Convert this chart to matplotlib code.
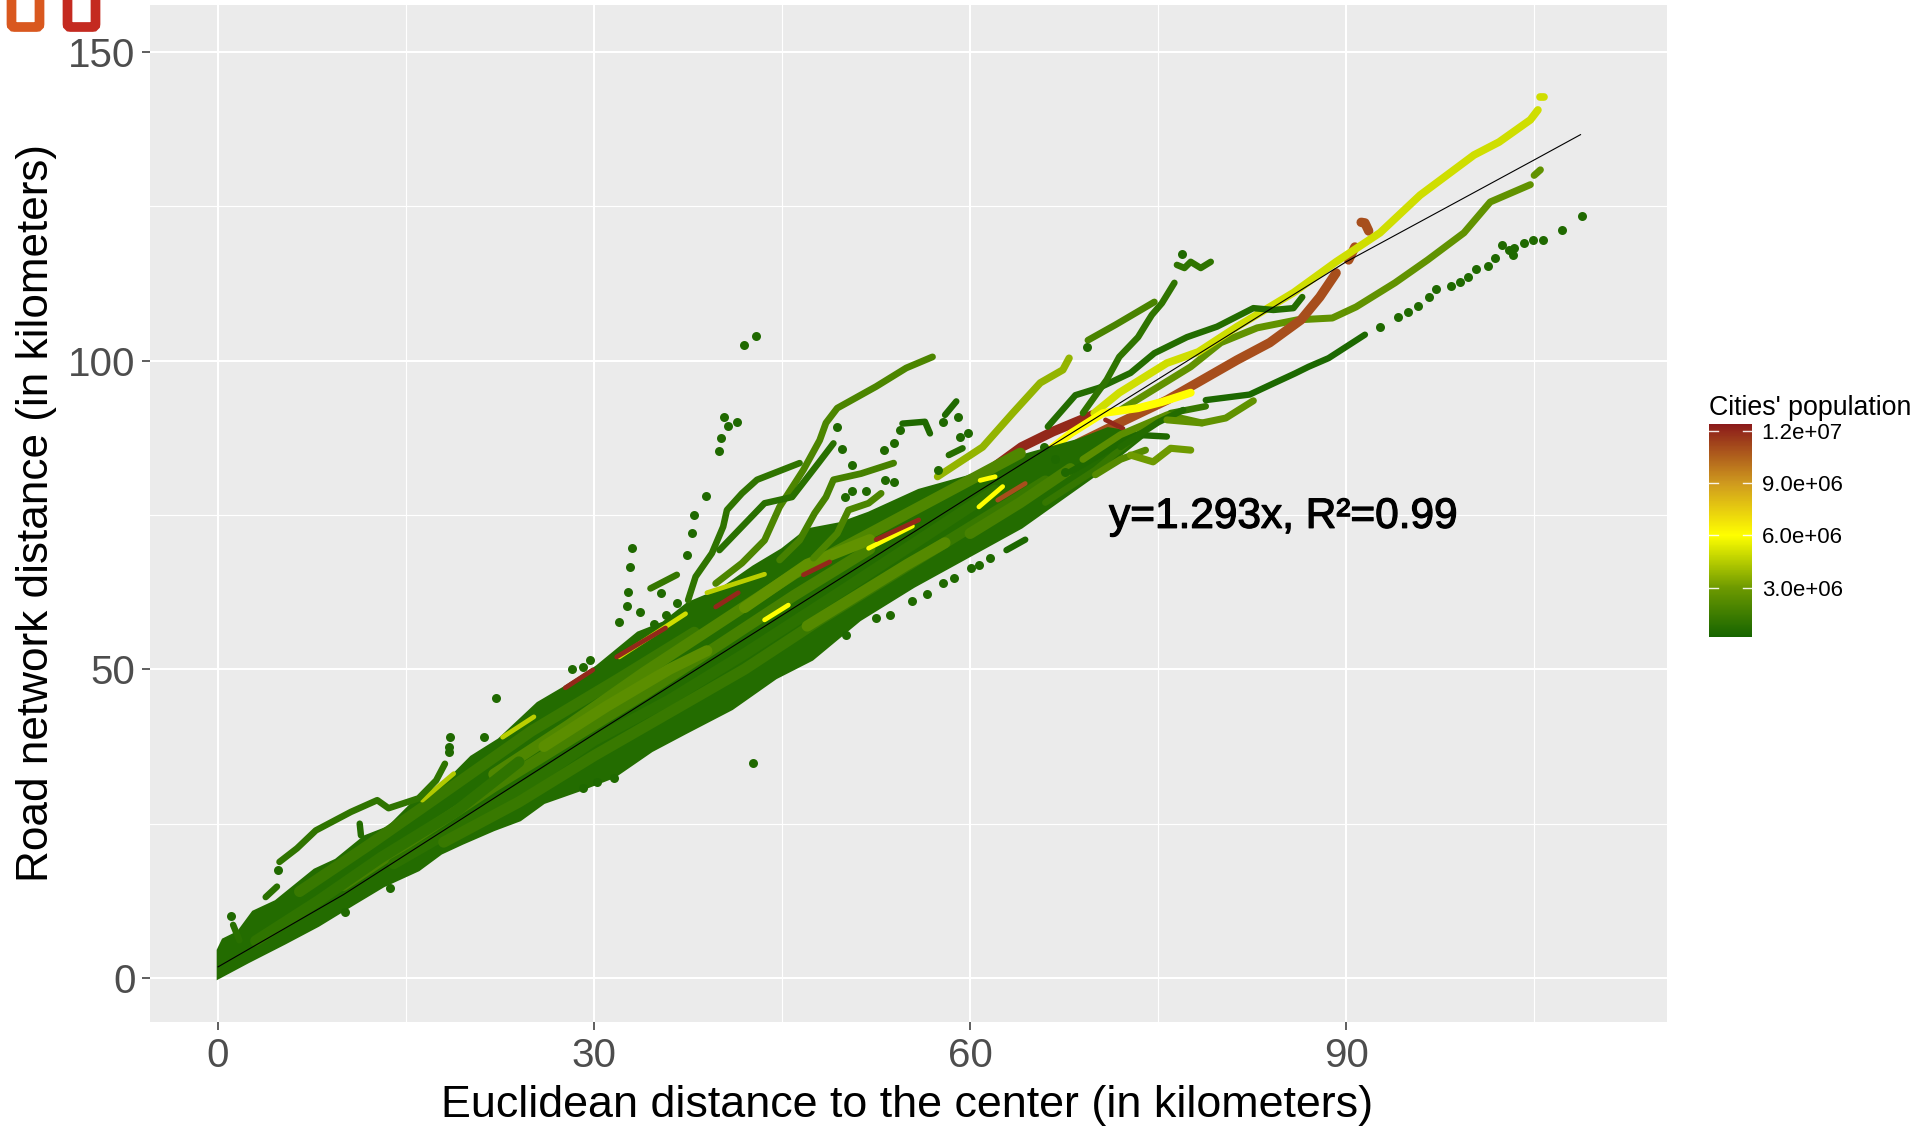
import matplotlib
matplotlib.use("Agg")
import matplotlib.pyplot as plt
import matplotlib.patheffects as pe
from matplotlib.colors import LinearSegmentedColormap, Normalize
from matplotlib.colorbar import ColorbarBase
from matplotlib.patches import FancyBboxPatch

plt.rcParams['font.family'] = ['Liberation Sans', 'DejaVu Sans']

W, H = 1929, 1126

# main band around the fit
band_upper_x = [0, 0.4, 1.6, 2.8, 4.6, 7.7, 9.4, 11.7, 13.6, 16, 18, 20.2, 22.4, 25.5, 27.6, 30.2, 33.5, 35.5, 37.5, 40, 42.7, 45, 47, 49.6, 51.9, 55.9, 59.8, 64, 68.6, 71, 74]
band_upper_y = [4.5, 6.2, 7.4, 10.7, 12.4, 17.5, 19.1, 22.9, 24.4, 29.3, 31.3, 35.8, 38.6, 44.5, 47, 50.4, 55.9, 57.5, 60.7, 62.8, 66.6, 69.4, 72.6, 73.6, 75.3, 79, 81.2, 84.5, 87.1, 89, 88]
band_lower_x = [0, 2.4, 5.3, 8, 10.9, 13.2, 16, 17.8, 19.5, 22, 24.1, 26, 28.8, 31.6, 34.6, 37.3, 41, 44.5, 47.4, 51.2, 55.5, 59.8, 64.1, 70.2]
band_lower_y = [0, 2.6, 5.6, 8.5, 12.1, 14.9, 17.5, 20.2, 21.8, 24, 25.6, 28.4, 30.4, 32.6, 36.8, 39.7, 43.6, 48.6, 51.6, 58, 63.4, 68.2, 73, 81.8]

# lighter stripes inside the band
stripe_a_x = [6.5, 12, 18, 25, 32, 38]
stripe_a_y = [14, 21.5, 30, 40, 48.5, 56]
stripe_b_x = [10, 16, 22, 28, 34, 40, 46, 52]
stripe_b_y = [15, 23, 31, 38.5, 46, 54, 62, 69.5]
stripe_c_x = [14, 20, 26, 30, 36, 42, 50, 56, 62]
stripe_c_y = [18.5, 25.5, 33, 38.5, 45, 52.5, 63, 71, 79]
stripe_d_x = [18, 24, 30, 36, 42, 48, 54, 60, 66]
stripe_d_y = [22, 28.5, 36, 43, 50, 58, 65.5, 73, 80.5]
stripe_e_x = [22, 28, 34, 40, 46, 52, 58, 64]
stripe_e_y = [33, 41, 49.5, 57.5, 65.5, 72, 78.5, 85]
stripe_f_x = [3, 8, 13, 19, 24]
stripe_f_y = [6, 12.5, 19.5, 27, 35]
stripe_g_x = [26, 31, 36, 39]
stripe_g_y = [37.5, 44, 50, 53]
stripe_h_x = [42, 47, 52]
stripe_h_y = [60, 67, 71]
stripe_i_x = [47, 51, 55, 58]
stripe_i_y = [57, 62, 67, 70.5]
stripe_j_x = [60, 64, 68]
stripe_j_y = [72, 77, 82.5]
stripes = [(stripe_a_x, stripe_a_y, 1.3e6), (stripe_b_x, stripe_b_y, 1.7e6), (stripe_c_x, stripe_c_y, 0.9e6),
           (stripe_d_x, stripe_d_y, 1.3e6), (stripe_e_x, stripe_e_y, 2.0e6), (stripe_f_x, stripe_f_y, 1.0e6),
           (stripe_g_x, stripe_g_y, 2.4e6), (stripe_h_x, stripe_h_y, 2.6e6), (stripe_i_x, stripe_i_y, 2.2e6),
           (stripe_j_x, stripe_j_y, 1.7e6)]

# fit line
fit_x = [0, 10, 30, 60, 90, 105, 108.7]
fit_y = [1.8, 13.5, 39.5, 78, 116, 132.5, 136.6]

# single cities leaving the band
lime_x = [69.9, 71.9, 75.7, 78.2, 81.3, 85.8, 89.2, 92.7, 95.9, 100.2, 102.2, 104.7, 105.3]
lime_y = [91.5, 94.8, 99.6, 101.4, 105.5, 111, 116, 120.7, 126.8, 133.3, 135.4, 139, 140.6]
lime_end_x = [105.5, 105.8]
lime_end_y = [142.7, 142.7]
red_x = [61.6, 64.1, 66.6, 69.8]
red_y = [82.3, 86, 88.5, 91.2]
brown_x = [62.4, 65.6, 68.7, 71.9, 75.7, 78.2, 81.3, 83.9, 86.4, 87.9, 89.2]
brown_y = [77.9, 82.3, 86.7, 89.9, 93.6, 96.5, 100.1, 102.9, 106.6, 110.3, 114.2]
brown_end_x = [90.2, 90.7]
brown_end_y = [116.3, 118.4]
brown_tip_x = [91.8, 91.5, 91.2]
brown_tip_y = [121, 122.3, 122.4]
yellow_x = [62.4, 65.6, 68.1, 70.6, 73.4, 75.3, 77.6]
yellow_y = [80.2, 84.4, 88.3, 91.5, 92.3, 93.3, 94.8]
olive_x = [57.4, 61, 63.4, 65.6, 67.4, 67.9]
olive_y = [81.2, 86, 91.5, 96.4, 98.5, 100.4]
mid_x = [72, 77.6, 80, 82.9, 86.1, 88.9, 90.8, 93.9, 96.5, 99.4, 101.5, 104.7]
mid_y = [92, 99, 102.9, 105.3, 106.6, 106.9, 108.7, 112.6, 116.3, 120.7, 125.7, 128.5]
mid_end_x = [105.0, 105.5]
mid_end_y = [130, 130.9]
green1_x = [66.2, 68.4, 70.3, 72.8, 74.7, 77.3, 79.7, 82.6, 84.2, 85.8, 86.5]
green1_y = [89.3, 94.4, 95.6, 98, 101.2, 103.8, 105.5, 108.5, 108.2, 108.5, 110.3]
green2_x = [69, 70.9, 71.9, 73.4, 74.1, 74.5, 75.3, 76.3]
green2_y = [91.5, 96.9, 100.6, 103.8, 106.1, 107.4, 109.3, 112.6]
green3_x = [76.5, 77.1, 77.6, 78.4, 79.2]
green3_y = [115.5, 115, 116, 115, 116]
green4_x = [69.4, 71.6, 74.7]
green4_y = [103.3, 105.8, 109.5]
chain_x = [78.8, 82.3, 84.2, 85.9, 87, 88.6, 91.5]
chain_y = [93.6, 94.5, 96.3, 97.9, 99, 100.4, 104.2]
low1_x = [72.8, 74.6, 76, 77.6]
low1_y = [84.7, 83.6, 85.8, 85.5]
low2_x = [75.7, 78.5, 80.4, 82.6]
low2_y = [90.4, 89.9, 90.7, 93.5]
tail_a_x = [66, 70, 73.5, 76, 78.8]
tail_a_y = [77, 82.3, 88.2, 91.5, 92.6]
tail_b_x = [68, 71, 73, 75.7]
tail_b_y = [82, 85.5, 88, 87.7]
tail_c_x = [69, 72, 75.7, 78.5]
tail_c_y = [84, 88, 91.2, 89.9]
tail_d_x = [72, 75, 77]
tail_d_y = [86, 90, 92]
tail_e_x = [70, 72, 74]
tail_e_y = [81.5, 84, 85.5]
curve_a_x = [39.7, 41.8, 43.6, 44.8, 46.7, 48, 48.5, 49.4, 52.5, 54.9, 57]
curve_a_y = [63.9, 67.2, 70.9, 76.3, 82.3, 87.1, 89.9, 92.3, 95.8, 98.8, 100.6]
curve_b_x = [37.5, 38.1, 39.4, 40.3, 40.6, 41.8, 43, 46.4]
curve_b_y = [61.2, 65, 68.8, 73.1, 75.8, 78.5, 80.7, 83.4]
curve_c_x = [40, 41.8, 43.6, 45.8, 47.9, 49.1]
curve_c_y = [69.3, 73.1, 76.9, 77.9, 83.4, 86.6]
curve_d_x = [44.8, 46.4, 47.6, 48.5, 49.1, 51.3, 53.9]
curve_d_y = [67.7, 70.9, 75.3, 77.9, 80.7, 81.7, 83.4]
curve_e_x = [47.5, 49.4, 50.3, 51.9, 52.9]
curve_e_y = [68, 72, 75.8, 76.9, 78.5]
curve_f_x = [34.5, 36.6]
curve_f_y = [63.1, 65.3]
curve_g_x = [54.6, 56.4, 56.8]
curve_g_y = [89.8, 90.1, 88.2]
curve_h_x = [58, 58.9]
curve_h_y = [91.2, 93.4]
curve_i_x = [58.3, 59.4]
curve_i_y = [84.7, 85.8]
curve_j_x = [62.9, 64.4]
curve_j_y = [69.3, 71]
branch_x = [39.5, 44.5]
branch_y = [43.8, 49.2]
loop_x = [4.9, 6.3, 7.8, 10.6, 12.7, 13.6, 16, 17.4, 18.1]
loop_y = [18.8, 21, 23.9, 26.9, 28.8, 27.5, 29.1, 32, 34.7]
loop_b_x = [11.3, 11.4]
loop_b_y = [25, 23.1]
loop_c_x = [4.7, 3.8]
loop_c_y = [14.8, 13.1]
loop_d_x = [1.2, 1.7]
loop_d_y = [8.6, 6.1]

green_curves = [(tail_a_x, tail_a_y, 1.2e6), (tail_b_x, tail_b_y, 0.5e6), (tail_c_x, tail_c_y, 2.4e6), (tail_d_x, tail_d_y, 0.6e6),
                (tail_e_x, tail_e_y, 2.2e6), (green1_x, green1_y, 0.6e6), (green2_x, green2_y, 1.0e6), (green3_x, green3_y, 1.0e6),
                (green4_x, green4_y, 1.8e6), (chain_x, chain_y, 0.4e6), (low1_x, low1_y, 3.0e6), (low2_x, low2_y, 2.6e6),
                (curve_a_x, curve_a_y, 1.9e6), (curve_b_x, curve_b_y, 1.0e6), (curve_c_x, curve_c_y, 0.8e6),
                (curve_d_x, curve_d_y, 1.7e6), (curve_e_x, curve_e_y, 1.9e6), (curve_f_x, curve_f_y, 1.2e6),
                (curve_g_x, curve_g_y, 0.5e6), (curve_h_x, curve_h_y, 0.5e6), (curve_i_x, curve_i_y, 0.7e6),
                (curve_j_x, curve_j_y, 0.4e6), (branch_x, branch_y, 0.6e6), (loop_x, loop_y, 1.0e6),
                (loop_b_x, loop_b_y, 0.6e6), (loop_c_x, loop_c_y, 0.8e6), (loop_d_x, loop_d_y, 0.8e6)]
big_curves = [(mid_x, mid_y, 2.6e6), (mid_end_x, mid_end_y, 2.6e6), (olive_x, olive_y, 3.8e6), (red_x, red_y, 1.2e7),
              (brown_x, brown_y, 1.1e7), (brown_end_x, brown_end_y, 1.1e7), (brown_tip_x, brown_tip_y, 1.1e7),
              (lime_x, lime_y, 5.0e6), (lime_end_x, lime_end_y, 5.0e6), (yellow_x, yellow_y, 6.0e6)]

# short bits that show through the band
red_bit_1_x = [46.7, 48.8]
red_bit_1_y = [65.3, 67.4]
red_bit_2_x = [39.7, 41.5]
red_bit_2_y = [60.1, 62.4]
red_bit_3_x = [31.8, 35.7]
red_bit_3_y = [52, 56.7]
red_bit_4_x = [27.7, 29.9]
red_bit_4_y = [47, 49.9]
red_bit_5_x = [52.5, 55.9]
red_bit_5_y = [71, 74.2]
red_bit_6_x = [70.8, 72.2]
red_bit_6_y = [90.4, 89]
brown_bit_1_x = [62.2, 64.4]
brown_bit_1_y = [77.4, 80.1]
yellow_bit_1_x = [51.9, 55.4]
yellow_bit_1_y = [69.6, 73.2]
yellow_bit_2_x = [60.7, 62.6]
yellow_bit_2_y = [76.3, 79.6]
yellow_bit_3_x = [43.6, 45.5]
yellow_bit_3_y = [58, 60.4]
yellow_bit_4_x = [60.8, 62]
yellow_bit_4_y = [80.6, 81.2]
lime_bit_1_x = [22.7, 25.2]
lime_bit_1_y = [39, 42.3]
lime_bit_2_x = [32, 37.3]
lime_bit_2_y = [52, 59]
lime_bit_3_x = [16.3, 18.8]
lime_bit_3_y = [28.8, 33.1]
lime_bit_4_x = [39, 43.6]
lime_bit_4_y = [62.4, 65.4]
bits = [(lime_bit_1_x, lime_bit_1_y, 4.6e6), (lime_bit_2_x, lime_bit_2_y, 5.0e6), (lime_bit_3_x, lime_bit_3_y, 4.4e6),
        (lime_bit_4_x, lime_bit_4_y, 4.6e6), (yellow_bit_1_x, yellow_bit_1_y, 6e6), (yellow_bit_2_x, yellow_bit_2_y, 6e6),
        (yellow_bit_3_x, yellow_bit_3_y, 6e6), (yellow_bit_4_x, yellow_bit_4_y, 6e6), (red_bit_1_x, red_bit_1_y, 1.2e7),
        (red_bit_2_x, red_bit_2_y, 1.2e7), (red_bit_3_x, red_bit_3_y, 1.2e7), (red_bit_4_x, red_bit_4_y, 1.2e7),
        (red_bit_5_x, red_bit_5_y, 1.2e7), (red_bit_6_x, red_bit_6_y, 1.2e7), (brown_bit_1_x, brown_bit_1_y, 1.1e7)]

# isolated points
dots_x = [42, 42.9, 40.4, 40.7, 41.4, 40.1, 40, 38.9, 38, 37.8, 37.4, 35.3, 33, 32.9, 32.7, 32.6, 33.7, 32, 34.8, 35.7, 36.6,
          52.5, 53.6, 55.4, 56.6, 57.8, 58.7, 60.1, 60.7, 61.6, 50.1, 57.8, 59, 59.8, 59.2, 53.9, 53.1, 54.4, 50.6, 53.2, 53.9,
          51.7, 50.6, 50, 49.4, 49.8, 57.4, 92.7, 94.1, 94.9, 95.7, 96.6, 97.2, 98.4, 99.1, 99.7, 100.4, 101.3, 101.9, 102.4,
          103, 103.3, 103.4, 104.2, 104.9, 105.7, 107.2, 108.8, 76.9, 69.3, 18.5, 18.4, 18.4, 21.2, 22.2, 4.8, 1, 28.2, 29.1,
          29.7, 42.7, 31.6, 30.2, 29.1, 10.1, 13.7, 65.9, 66.8, 67.6]
dots_y = [102.5, 104, 90.9, 89.4, 90, 87.4, 85.4, 78, 75, 72.1, 68.5, 62.4, 69.6, 66.6, 62.5, 60.2, 59.3, 57.7, 57.4, 58.8, 60.7,
          58.3, 58.8, 61, 62.2, 63.9, 64.8, 66.4, 66.9, 68, 55.6, 90.1, 90.9, 88.2, 87.6, 86.6, 85.5, 88.7, 83.1, 80.7, 80.4,
          78.9, 78.9, 77.9, 89.3, 85.7, 82.3, 105.5, 107.1, 107.9, 108.8, 110.3, 111.6, 112.1, 112.8, 113.6, 114.8, 115.4, 116.6, 118.7,
          117.9, 117.1, 118.2, 119, 119.6, 119.6, 121.1, 123.5, 117.3, 102.2, 39, 37.4, 36.6, 39, 45.3, 17.5, 10, 50.1, 50.4,
          51.5, 34.9, 32.4, 31.8, 30.7, 10.7, 14.5, 86, 84, 82]

x_ticks = [0, 30, 60, 90]
x_minor = [15, 45, 75, 105]
y_ticks = [0, 50, 100, 150]
y_minor = [25, 75, 125]

pop_ticks = [3e6, 6e6, 9e6, 1.2e7]
pop_labels = ['3.0e+06', '6.0e+06', '9.0e+06', '1.2e+07']
pop_min, pop_max = 0.17e6, 1.24e7

norm = Normalize(pop_min, pop_max)
stops = [(0.17e6, '#166400'), (3e6, '#6E9A00'), (6e6, '#FFFF00'), (9e6, '#CF9A1E'), (1.24e7, '#8B1A1A')]
cmap = LinearSegmentedColormap.from_list('pop', [(float(norm(p)), c) for p, c in stops])


def line_width(pop):
    # bigger cities were drawn with bigger points
    return 4.5 + 2.5 * pop / 1.2e7


def draw(ax, x, y, pop, lw=None, z=3):
    ax.plot(x, y, color=cmap(norm(pop)), lw=lw if lw else line_width(pop),
            solid_capstyle='round', solid_joinstyle='round', zorder=z)


fig = plt.figure(figsize=(W / 100, H / 100), dpi=100)
ax = fig.add_axes([150 / W, 1 - 1022 / H, 1517 / W, 1017 / H])
ax.set_facecolor('#EBEBEB')
ax.set_xlim(-5.43, 115.6)
ax.set_ylim(-7.13, 157.6)

ax.set_xticks(x_ticks)
ax.set_xticks(x_minor, minor=True)
ax.set_yticks(y_ticks)
ax.set_yticks(y_minor, minor=True)
ax.grid(True, which='major', color='white', lw=1.5, zorder=1)
ax.grid(True, which='minor', color='white', lw=0.8, zorder=1)
ax.set_axisbelow(True)
for s in ax.spines.values():
    s.set_visible(False)
ax.tick_params(which='minor', length=0)
ax.tick_params(which='major', length=5.5, width=1.1, color='#333333', labelsize=29, labelcolor='#4D4D4D', pad=5)

for x, y, pop in big_curves:
    draw(ax, x, y, pop, z=2.5)

# band: filled outline first, then the stripes over it
ax.fill(band_upper_x + band_lower_x[::-1], band_upper_y + band_lower_y[::-1],
        color=cmap(norm(0.6e6)), lw=2, zorder=3)
for x, y, pop in stripes:
    draw(ax, x, y, pop, lw=8, z=3.1)
for x, y, pop in bits:
    draw(ax, x, y, pop, lw=3.4, z=3.2)
for x, y, pop in green_curves:
    draw(ax, x, y, pop, z=3.3)
ax.scatter(dots_x, dots_y, s=42, color=cmap(norm(0.5e6)), linewidths=0, zorder=3.3)
ax.plot(fit_x, fit_y, color='black', lw=0.8, zorder=4)

# the label was stamped several times in the original, so it looks heavier
ax.text(85, 74.7, 'y=1.293x, R²=0.99', fontsize=30.5, color='black', ha='center', va='center', zorder=5,
        path_effects=[pe.withStroke(linewidth=0.9, foreground='black')])

fig.text(907 / W, 1 - 1105 / H, 'Euclidean distance to the center (in kilometers)', fontsize=32.3,
         ha='center', va='center', color='black')
fig.text(37 / W, 1 - 513 / H, 'Road network distance (in kilometers)', fontsize=31.8, rotation=90,
         ha='center', va='center', color='black')

# legend
cax = fig.add_axes([1709 / W, 1 - 637 / H, 43 / W, 213 / H])
cb = ColorbarBase(cax, cmap=cmap, norm=norm, orientation='vertical')
cb.outline.set_visible(False)
cb.set_ticks(pop_ticks)
cb.set_ticklabels(pop_labels)
cax.tick_params(length=0, labelsize=16, pad=7, labelcolor='black')
for p in pop_ticks:
    cax.plot([0, 0.2], [p, p], color='white', lw=1, alpha=0.9)
    cax.plot([0.8, 1], [p, p], color='white', lw=1, alpha=0.9)
fig.text(1709 / W, 1 - 408 / H, "Cities' population", fontsize=19.3, ha='left', va='center', color='black')

# bits of the two logo boxes cut off at the top
overlay = fig.add_axes([0, 0, 1, 1], facecolor='none')
overlay.set_xlim(0, W)
overlay.set_ylim(H, 0)
overlay.axis('off')
for left, col in [(11.5, '#D9581F'), (67.5, '#C42A20')]:
    overlay.add_patch(FancyBboxPatch((left, -30), 28, 57, boxstyle='round,pad=0,rounding_size=3',
                                     fc='none', ec=col, lw=7))

fig.savefig('out.png', dpi=100)
